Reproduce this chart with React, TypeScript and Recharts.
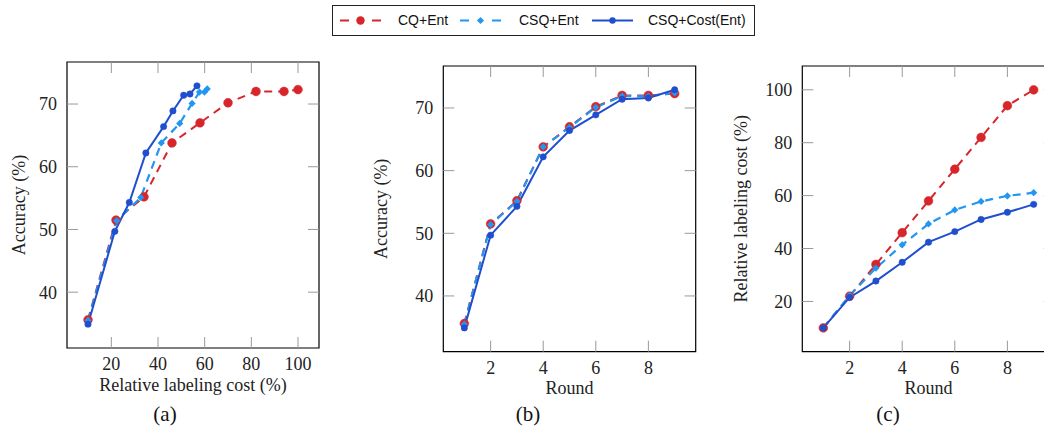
import { LineChart, Line, XAxis, YAxis, ReferenceArea } from "recharts";

// x axis of panels (b) and (c)
const rounds = [1, 2, 3, 4, 5, 6, 7, 8, 9];

// CQ+Ent
const cqCost = [10, 22, 34, 46, 58, 70, 82, 94, 100];
const cqAcc = [35.6, 51.5, 55.2, 63.8, 67.0, 70.2, 72.0, 72.0, 72.3];
// CSQ+Ent
const csqCost = [10, 22.3, 32.6, 41.4, 49.3, 54.6, 57.8, 59.9, 61.1];
const csqAcc = [35.5, 51.4, 55.1, 63.8, 66.9, 70.1, 71.9, 71.9, 72.4];
// CSQ+Cost(Ent)
const costCost = [10, 21.5, 27.7, 34.8, 42.4, 46.4, 51.0, 53.7, 56.7];
const costAcc = [34.9, 49.7, 54.3, 62.2, 66.4, 68.9, 71.4, 71.6, 72.9];

const costTicks = [20, 40, 60, 80, 100];
const accTicks = [40, 50, 60, 70];
const roundTicks = [2, 4, 6, 8];

const RED = "#d7262b";
const LIGHT = "#2196f3";
const DARK = "#1f4fcf";
const SERIF = "'Liberation Serif', 'DejaVu Serif', serif";
const SANS = "'Liberation Sans', Arial, sans-serif";
const TICK_LEN = 11;
const TICK_COLOR = "#999";

const pts = (xs: number[], ys: number[]) => xs.map((x, i) => ({ x, y: ys[i] }));

const Diamond = (props: any) => {
  const { cx, cy, index } = props;
  if (cx == null || cy == null) return <g key={index} />;
  const r = 3.6;
  return (
    <path
      key={index}
      d={`M${cx},${cy - r}L${cx + r},${cy}L${cx},${cy + r}L${cx - r},${cy}Z`}
      fill={LIGHT}
    />
  );
};

type Series = { red: any[]; light: any[]; dark: any[] };

type PanelProps = {
  left: number;
  width: number;
  yAxisWidth: number;
  frameTop: number;
  frameBottom: number;
  marginRight: number;
  xDomain: number[];
  yDomain: number[];
  xTicks: number[];
  yTicks: number[];
  xLabel: string;
  yLabel: string;
  labelOffset: number;
  yLabelOffset: number;
  series: Series;
};

const H = 400;

function Panel(p: PanelProps) {
  const frameLeft = p.yAxisWidth;
  const frameRight = p.width - p.marginRight;

  // bottom tick: label + inward tick marks on bottom and top edges
  const XTick = (props: any) => {
    const { x, y, payload } = props;
    return (
      <g>
        <line x1={x} x2={x} y1={p.frameBottom} y2={p.frameBottom - TICK_LEN} stroke={TICK_COLOR} />
        <line x1={x} x2={x} y1={p.frameTop} y2={p.frameTop + TICK_LEN} stroke={TICK_COLOR} />
        <text x={x} y={y} dy="0.71em" textAnchor="middle" fontFamily={SERIF} fontSize={18} fill="#222">
          {payload.value}
        </text>
      </g>
    );
  };
  // left tick: label + inward tick marks on left and right edges
  const YTick = (props: any) => {
    const { x, y, payload } = props;
    return (
      <g>
        <line x1={frameLeft} x2={frameLeft + TICK_LEN} y1={y} y2={y} stroke={TICK_COLOR} />
        <line x1={frameRight} x2={frameRight - TICK_LEN} y1={y} y2={y} stroke={TICK_COLOR} />
        <text x={x} y={y} dy="0.355em" textAnchor="end" fontFamily={SERIF} fontSize={18} fill="#222">
          {payload.value}
        </text>
      </g>
    );
  };

  return (
    <div style={{ position: "absolute", left: p.left, top: 0 }}>
      <LineChart
        width={p.width}
        height={H}
        margin={{ top: p.frameTop, right: p.marginRight, left: 0, bottom: 0 }}
      >
        <XAxis
          xAxisId="b"
          dataKey="x"
          type="number"
          domain={p.xDomain}
          allowDataOverflow
          ticks={p.xTicks}
          interval={0}
          height={H - p.frameBottom}
          tickSize={0}
          tickMargin={9.5}
          tick={XTick}
          tickLine={false}
          axisLine={false}
          label={{
            value: p.xLabel,
            position: "insideBottom",
            offset: p.labelOffset,
            style: { fontFamily: SERIF, fontSize: 18, fill: "#222" },
          }}
        />
        <YAxis
          yAxisId="l"
          type="number"
          domain={p.yDomain}
          allowDataOverflow
          ticks={p.yTicks}
          interval={0}
          width={p.yAxisWidth}
          tickSize={0}
          tickMargin={10}
          tick={YTick}
          tickLine={false}
          axisLine={false}
          label={{
            value: p.yLabel,
            position: "insideLeft",
            angle: -90,
            offset: p.yLabelOffset,
            style: { fontFamily: SERIF, fontSize: 18, fill: "#222", textAnchor: "middle" },
          }}
        />
        <ReferenceArea
          xAxisId="b"
          yAxisId="l"
          x1={p.xDomain[0]}
          x2={p.xDomain[1]}
          y1={p.yDomain[0]}
          y2={p.yDomain[1]}
          fill="none"
          fillOpacity={0}
          stroke="#000"
          strokeWidth={1.2}
          ifOverflow="visible"
        />
        <Line
          xAxisId="b"
          yAxisId="l"
          data={p.series.red}
          dataKey="y"
          stroke={RED}
          strokeWidth={2}
          strokeDasharray="8 6"
          dot={{ r: 4.4, fill: RED, stroke: RED, strokeWidth: 0.5, strokeDasharray: "0" }}
          isAnimationActive={false}
        />
        <Line
          xAxisId="b"
          yAxisId="l"
          data={p.series.light}
          dataKey="y"
          stroke={LIGHT}
          strokeWidth={2.2}
          strokeDasharray="8 6"
          dot={Diamond}
          isAnimationActive={false}
        />
        <Line
          xAxisId="b"
          yAxisId="l"
          data={p.series.dark}
          dataKey="y"
          stroke={DARK}
          strokeWidth={2}
          dot={{ r: 3.2, fill: DARK, stroke: DARK, strokeWidth: 0.5 }}
          isAnimationActive={false}
        />
      </LineChart>
    </div>
  );
}

function Legend() {
  const items = [
    { label: "CQ+Ent", color: RED, x0: 340, tx: 398, dash: true, mark: "circle" },
    { label: "CSQ+Ent", color: LIGHT, x0: 460, tx: 519, dash: true, mark: "diamond" },
    { label: "CSQ+Cost(Ent)", color: DARK, x0: 592, tx: 648, dash: false, mark: "dot" },
  ];
  return (
    <div
      style={{
        position: "absolute",
        left: 332,
        top: 5,
        width: 423,
        height: 31,
        border: "1px solid #222",
        boxSizing: "border-box",
      }}
    >
      <svg width={423} height={31} style={{ position: "absolute", left: -1, top: -1 }}>
        {items.map((it) => {
          const x = it.x0 - 332;
          const cx = x + 20.5;
          return (
            <g key={it.label}>
              <line
                x1={x}
                x2={x + 41}
                y1={15.5}
                y2={15.5}
                stroke={it.color}
                strokeWidth={2}
                strokeDasharray={it.dash ? "9 23" : undefined}
              />
              {it.mark === "circle" && <circle cx={cx} cy={15.5} r={4.2} fill={it.color} />}
              {it.mark === "diamond" && (
                <path
                  d={`M${cx},${15.5 - 3.6}L${cx + 3.6},15.5L${cx},${15.5 + 3.6}L${cx - 3.6},15.5Z`}
                  fill={it.color}
                />
              )}
              {it.mark === "dot" && <circle cx={cx} cy={15.5} r={3.2} fill={it.color} />}
              <text
                x={it.tx - 332}
                y={15.5}
                dy="0.35em"
                fontFamily={SANS}
                fontSize={14}
                fill="#111"
              >
                {it.label}
              </text>
            </g>
          );
        })}
      </svg>
    </div>
  );
}

const captions = [
  { t: "(a)", x: 165 },
  { t: "(b)", x: 528 },
  { t: "(c)", x: 888 },
];

export default function App() {
  return (
    <div
      style={{
        position: "absolute",
        left: 0,
        top: 0,
        width: 1044,
        height: 429,
        overflow: "hidden",
        background: "#fff",
      }}
    >
      <Panel
        left={0}
        width={340}
        yAxisWidth={67}
        frameTop={62}
        frameBottom={348}
        marginRight={21}
        xDomain={[1, 109]}
        yDomain={[31.1, 76.7]}
        xTicks={costTicks}
        yTicks={accTicks}
        xLabel="Relative labeling cost (%)"
        yLabel="Accuracy (%)"
        labelOffset={9.5}
        yLabelOffset={19}
        series={{
          red: pts(cqCost, cqAcc),
          light: pts(csqCost, csqAcc),
          dark: pts(costCost, costAcc),
        }}
      />
      <Panel
        left={360}
        width={345}
        yAxisWidth={83.3}
        frameTop={66}
        frameBottom={351.7}
        marginRight={9.3}
        xDomain={[0.2, 9.8]}
        yDomain={[31.1, 76.7]}
        xTicks={roundTicks}
        yTicks={accTicks}
        xLabel="Round"
        yLabel="Accuracy (%)"
        labelOffset={5.8}
        yLabelOffset={20.7}
        series={{
          red: pts(rounds, cqAcc),
          light: pts(rounds, csqAcc),
          dark: pts(rounds, costAcc),
        }}
      />
      <Panel
        left={720}
        width={345}
        yAxisWidth={82.3}
        frameTop={66}
        frameBottom={351.7}
        marginRight={10.3}
        xDomain={[0.2, 9.8]}
        yDomain={[1, 109]}
        xTicks={roundTicks}
        yTicks={costTicks}
        xLabel="Round"
        yLabel="Relative labeling cost (%)"
        labelOffset={5.8}
        yLabelOffset={20.7}
        series={{
          red: pts(rounds, cqCost),
          light: pts(rounds, csqCost),
          dark: pts(rounds, costCost),
        }}
      />
      <Legend />
      {captions.map((c) => (
        <div
          key={c.t}
          style={{
            position: "absolute",
            left: c.x - 30,
            width: 60,
            top: 401,
            textAlign: "center",
            fontFamily: SERIF,
            fontSize: 21,
            lineHeight: "26px",
            color: "#111",
          }}
        >
          {c.t}
        </div>
      ))}
    </div>
  );
}
